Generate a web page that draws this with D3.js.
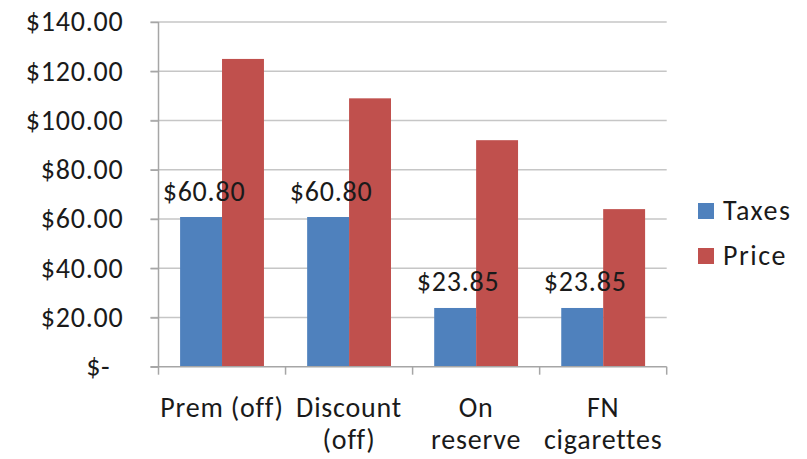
<!DOCTYPE html>
<html>
<head>
<meta charset="utf-8">
<script src="https://cdn.jsdelivr.net/npm/d3@7"></script>
<style>
  html, body { margin: 0; padding: 0; background: #ffffff; }
  svg { display: block; }
  text { font-family: Carlito, Lato, "Open Sans", sans-serif; fill: #1a1a1a; letter-spacing: 0.8px; }
</style>
</head>
<body>
<svg id="chart" width="807" height="459"></svg>
<script>
// ---- data ----
const categories = [["Prem (off)"], ["Discount", "(off)"], ["On", "reserve"], ["FN", "cigarettes"]];
const categoryKeys = ["Prem (off)", "Discount (off)", "On reserve", "FN cigarettes"];
const seriesNames = ["Taxes", "Price"];
const taxes = [60.80, 60.80, 23.85, 23.85];
const price = [125, 109, 92, 64];
const yTicks = [0, 20, 40, 60, 80, 100, 120, 140];
const taxLabels = ["$60.80", "$60.80", "$23.85", "$23.85"];
const colors = ["#4F81BD", "#C0504D"];

// ---- layout ----
const svg = d3.select("#chart");
const pL = 158.5, pR = 666.7, pT = 22, pB = 366.7;
const FS = 28;

const x0 = d3.scaleBand().domain(categoryKeys).range([pL, pR]).paddingInner(0).paddingOuter(0);
const x1 = d3.scaleBand().domain(seriesNames).range([x0.bandwidth() * 0.17, x0.bandwidth() * 0.83]).padding(0);
const y = d3.scaleLinear().domain([0, 140]).range([pB, pT]);

// gridlines
svg.append("g").selectAll("line").data(yTicks.filter(d => d > 0)).join("line")
  .attr("x1", pL - 8).attr("x2", pR)
  .attr("y1", d => y(d)).attr("y2", d => y(d))
  .attr("stroke", "#c6c6c6").attr("stroke-width", 1.5);

// y axis
const yAxis = d3.axisLeft(y).tickValues(yTicks).tickSize(8).tickPadding(27)
  .tickFormat(d => d === 0 ? "$-" : "$" + d.toFixed(2));
const gy = svg.append("g").attr("transform", `translate(${pL},0)`).call(yAxis);
gy.select(".domain").attr("stroke", "#a6a6a6").attr("stroke-width", 1.5).attr("d", `M0,${pT}V${pB}`);
gy.selectAll(".tick line").attr("stroke", "#a6a6a6").attr("stroke-width", 1.5);
gy.selectAll(".tick text").attr("font-size", FS).attr("fill", "#1a1a1a")
  .attr("font-family", "Carlito, Lato, 'Open Sans', sans-serif")
  .attr("dx", d => d === 0 ? -13 : 0);

// bars
const rows = categoryKeys.map((c, i) => ({ cat: c, vals: [taxes[i], price[i]] }));
const groups = svg.append("g").selectAll("g").data(rows).join("g")
  .attr("transform", d => `translate(${x0(d.cat)},0)`);
groups.selectAll("rect").data(d => d.vals.map((v, j) => ({ s: seriesNames[j], v, j }))).join("rect")
  .attr("x", d => x1(d.s)).attr("width", x1.bandwidth())
  .attr("y", d => y(d.v)).attr("height", d => y(0) - y(d.v))
  .attr("fill", d => colors[d.j]);

// x axis
const gx = svg.append("g").attr("transform", `translate(0,${pB})`);
gx.append("line").attr("x1", pL - 8).attr("x2", pR).attr("y1", 0).attr("y2", 0)
  .attr("stroke", "#a6a6a6").attr("stroke-width", 1.5);
const bounds = categoryKeys.map(c => x0(c)).concat([pR]);
gx.selectAll("line.t").data(bounds).join("line").attr("class", "t")
  .attr("x1", d => d).attr("x2", d => d).attr("y1", 0).attr("y2", 8)
  .attr("stroke", "#a6a6a6").attr("stroke-width", 1.5);

// category labels
const catText = svg.append("g").selectAll("text").data(categories).join("text")
  .attr("text-anchor", "middle").attr("font-size", FS)
  .attr("x", (d, i) => x0(categoryKeys[i]) + x0.bandwidth() / 2)
  .attr("y", 416.5);
catText.selectAll("tspan").data(d => d).join("tspan")
  .attr("x", function () { return d3.select(this.parentNode).attr("x"); })
  .attr("dy", (d, i) => i === 0 ? 0 : 32.5)
  .text(d => d);

// data labels (taxes)
svg.append("g").selectAll("text").data(taxes).join("text")
  .attr("text-anchor", "middle").attr("font-size", FS)
  .attr("x", (d, i) => x0(categoryKeys[i]) + x1("Taxes") + x1.bandwidth() / 2 + 3)
  .attr("y", d => y(d) - 16.5)
  .text((d, i) => taxLabels[i]);

// legend
const legend = svg.append("g").attr("transform", "translate(698,203)");
const li = legend.selectAll("g").data(seriesNames).join("g")
  .attr("transform", (d, i) => `translate(0,${i * 45})`);
li.append("rect").attr("width", 16).attr("height", 16).attr("fill", (d, i) => colors[i]);
li.append("text").attr("x", 25).attr("y", 17).attr("font-size", FS)
  .style("letter-spacing", "1.5px").text(d => d);
</script>
</body>
</html>
